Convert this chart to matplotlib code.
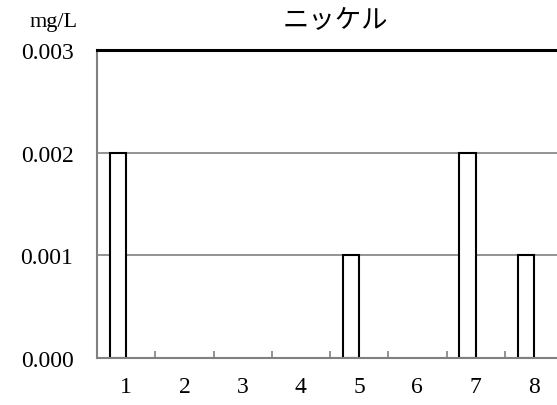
import numpy as np
import matplotlib.pyplot as plt

# data
categories = ["1", "2", "3", "4", "5", "6", "7", "8"]
values = [0.002, 0, 0, 0, 0.001, 0, 0.002, 0.001]
yticks = [0.000, 0.001, 0.002, 0.003]
ytick_labels = ["0.000", "0.001", "0.002", "0.003"]
title = "ニッケル"
unit = "mg/L"

serif = ["Liberation Serif", "Noto Sans CJK JP"]

fig = plt.figure(figsize=(5.57, 4.06), dpi=100)
ax = fig.add_axes([97 / 557, 1 - 359 / 406, 466 / 557, 308 / 406])

x = np.arange(1, len(categories) + 1)
vals = np.array(values, dtype=float)
w = 0.28
# bar's right edge sits on the category centre; zero values draw nothing
nz = vals > 0
ax.bar(x[nz] - w / 2, vals[nz], w, facecolor="white", edgecolor="black",
       linewidth=1.5, zorder=2)

ax.set_xlim(0.5, len(categories) + 0.5)
ax.set_ylim(0, 0.003)

# gridlines
for v in yticks[1:-1]:
    ax.axhline(v, color="#808080", linewidth=1.2, zorder=1)
ax.axhline(yticks[-1], color="black", linewidth=2.2, zorder=4, clip_on=False)

ax.set_yticks(yticks)
ax.set_yticklabels(ytick_labels, family=serif, fontsize=17)
ax.tick_params(axis="y", length=0, pad=17)

ax.set_xticks(x)
ax.set_xticklabels(categories, family=serif, fontsize=17)
ax.tick_params(axis="x", length=0, pad=13)
# boundary ticks between categories
ax.set_xticks(np.arange(1.5, len(categories) + 0.5, 1), minor=True)
ax.tick_params(axis="x", which="minor", direction="in", length=5, color="#808080", width=1.2)

for s in ["top", "right"]:
    ax.spines[s].set_visible(False)
for s in ["left", "bottom"]:
    ax.spines[s].set_color("#808080")
    ax.spines[s].set_linewidth(1.5)
    ax.spines[s].set_zorder(3)

fig.text(335 / 557, 1 - 21 / 406, title, family=["Noto Sans CJK JP"], fontsize=19,
         ha="center", va="center")
fig.text(78 / 557, 1 - 22 / 406, unit, family=serif, fontsize=16, ha="right", va="center")

fig.savefig("out.png", dpi=100)
